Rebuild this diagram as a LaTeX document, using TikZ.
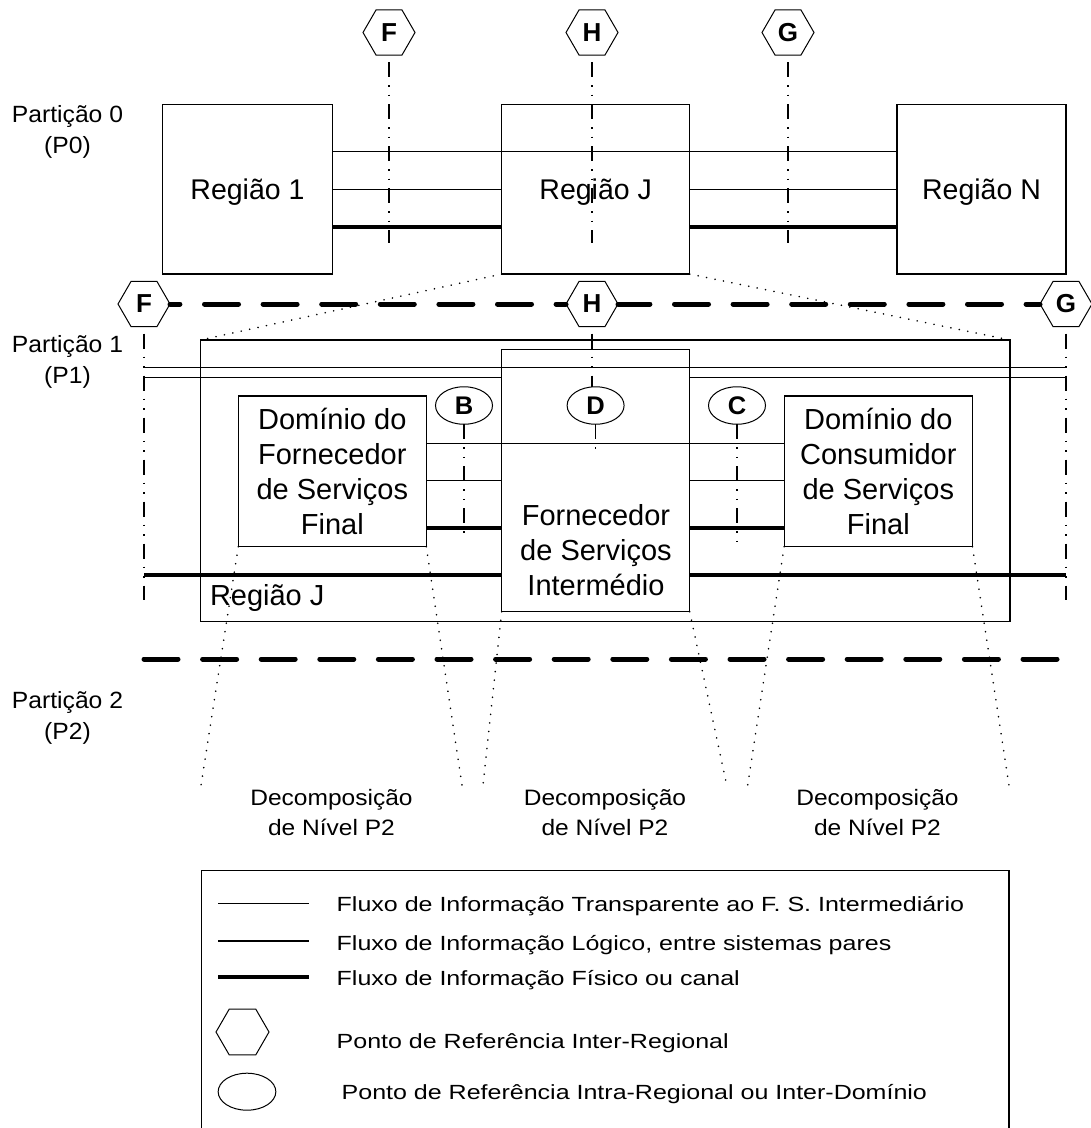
\documentclass[tikz,border=0pt]{standalone}
\usepackage{fontspec}
\setmainfont{Liberation Sans}
\newfontfamily\legendfont[FakeStretch=1.22]{Liberation Sans}
\newfontfamily\decofont[FakeStretch=1.1]{Liberation Sans}
\newfontfamily\partfont[FakeStretch=1.05]{Liberation Sans}
\usetikzlibrary{shapes.geometric,calc}
\begin{document}
\begin{tikzpicture}[x=1pt,y=-1pt,
  every node/.style={inner sep=0pt, outer sep=0pt},
  regbox/.style={draw, line width=1.2pt, text height=20.5pt, text depth=0pt, font=\fontsize{28.5}{34}\selectfont},
  plainbox/.style={draw, line width=1.2pt},
  dombox/.style={draw, line width=1.2pt, align=center, font=\fontsize{29}{35}\selectfont},
  hexnode/.style={draw, fill=white, regular polygon, regular polygon sides=6, minimum size=52pt, line width=1pt, font=\fontsize{26}{26}\selectfont\bfseries},
  ellnode/.style={draw, ellipse, minimum width=57pt, minimum height=37.5pt, line width=1pt, font=\fontsize{25.5}{25.5}\selectfont\bfseries},
  thinflow/.style={line width=1.1pt},
  thickflow/.style={line width=4pt},
  border/.style={line width=5pt, line cap=round, dash pattern=on 34pt off 24.6pt},
  refline/.style={line width=1.2pt, dash pattern=on 15pt off 8pt on 1.5pt off 8pt on 1.5pt off 8pt},
  proj/.style={line width=1.7pt, line cap=round, dash pattern=on 0.1pt off 8.5pt},
  partlabel/.style={align=center, font=\partfont\fontsize{23.5}{31}\selectfont},
  decolabel/.style={align=center, font=\decofont\fontsize{22.3}{30}\selectfont},
  legtext/.style={anchor=base west, font=\legendfont\fontsize{20.5}{24}\selectfont}
]
\useasboundingbox (0,0) rectangle (1091,1128);

% ---------------- Partition 0 ----------------
\node[partlabel] (part0) at (67.5,132) {Partição 0\\(P0)};
\node[regbox, minimum width=169.6pt, minimum height=169.7pt] (reg1) at (247.5,189.2) {Região 1};
\node[regbox, minimum width=188pt, minimum height=169.7pt] (regJ) at (595.7,189.2) {Região J};
\node[regbox, minimum width=169pt, minimum height=169.7pt] (regN) at (981.5,189.2) {Região N};

\node[hexnode] (tF) at (389,32.5) {F};
\node[hexnode] (tH) at (592,32.5) {H};
\node[hexnode] (tG) at (788,32.5) {G};

\draw[thinflow] (reg1.east |- 0,151.7) -- (regN.west |- 0,151.7);
\draw[thinflow] (reg1.east |- 0,189.3) -- (regJ.west |- 0,189.3);
\draw[thinflow] (regJ.east |- 0,189.3) -- (regN.west |- 0,189.3);
\draw[thickflow] (reg1.east |- 0,227) -- (regJ.west |- 0,227);
\draw[thickflow] (regJ.east |- 0,227) -- (regN.west |- 0,227);

\draw[refline] ($(tF.south)+(0,7)$) -- (tF |- 0,243);
\draw[refline] ($(tH.south)+(0,7)$) -- (tH |- 0,243);
\draw[refline] ($(tG.south)+(0,7)$) -- (tG |- 0,243);

% ---------------- Partition 1 ----------------
\node[partlabel] (part1) at (67.5,362) {Partição 1\\(P1)};
\node[hexnode] (pF) at (144,304) {F};
\node[hexnode] (pH) at (592,304) {H};
\node[hexnode] (pG) at (1066,304) {G};

\draw[border, dash phase=24.1pt] (pF.east) -- (pH.west);
\draw[border, dash phase=2.1pt] (pH.east) -- (pG.west);

\node[plainbox, minimum width=809.3pt, minimum height=281.7pt] (regJin) at (605.35,480.85) {};
\node[anchor=base west, font=\fontsize{29}{35}\selectfont] (regJinlab) at (210,605.5) {Região J};

\node[plainbox, minimum width=188pt, minimum height=262.4pt] (fsi) at (595.7,480.5) {};
\node[align=center, font=\fontsize{29}{35}\selectfont] (fsitext) at (596,550) {Fornecedor\\de Serviços\\Intermédio};

\node[dombox, minimum width=188pt, minimum height=150.7pt] (domF) at (332.3,471.3) {Domínio do\\Fornecedor\\de Serviços\\Final};
\node[dombox, minimum width=188.3pt, minimum height=150.7pt] (domC) at (878.3,471.3) {Domínio do\\Consumidor\\de Serviços\\Final};

\node[ellnode] (eB) at (464,405.5) {B};
\node[ellnode] (eD) at (595.6,405.5) {D};
\node[ellnode] (eC) at (737,405.5) {C};

% information flows across the region
\draw[thinflow] (pF |- 0,367.7) -- (pG |- 0,367.7);
\draw[thinflow] (pF |- 0,377.3) -- (fsi.west |- 0,377.3);
\draw[thinflow] (fsi.east |- 0,377.3) -- (pG |- 0,377.3);
\draw[thinflow] (domF.east |- 0,443.3) -- (domC.west |- 0,443.3);
\draw[thinflow] (domF.east |- 0,480.7) -- (fsi.west |- 0,480.7);
\draw[thinflow] (fsi.east |- 0,480.7) -- (domC.west |- 0,480.7);
\draw[thickflow] (domF.east |- 0,527.7) -- (fsi.west |- 0,527.7);
\draw[thickflow] (fsi.east |- 0,527.7) -- (domC.west |- 0,527.7);
\draw[thickflow] (pF |- 0,575) -- (fsi.west |- 0,575);
\draw[thickflow] (fsi.east |- 0,575) -- (pG |- 0,575);

% reference point lines
\draw[refline] ($(pF.south)+(0,7)$) -- (pF |- 0,600);
\draw[refline] ($(pG.south)+(0,7)$) -- (pG |- 0,600);
\draw[refline] ($(pH.south)+(0,7)$) -- (pH |- eD.north);
\draw[refline] (eD.south) -- (eD |- 0,456);
\draw[refline] (eB.south) -- (eB |- 0,540);
\draw[refline] (eC.south) -- (eC |- 0,542);

% projection of region J
\draw[proj] (regJ.south west) -- (regJin.north west);
\draw[proj] (regJ.south east) -- (regJin.north east);

% ---------------- Partition 2 ----------------
\draw[border] (pF |- 0,659) -- (pG |- 0,659);
\node[partlabel] (part2) at (67.5,718) {Partição 2\\(P2)};

\coordinate (d1a) at (200,791.7);
\coordinate (d1b) at (463,792);
\coordinate (d2a) at (483,785);
\coordinate (d2b) at (726.7,785);
\coordinate (d3a) at (746.7,791.7);
\coordinate (d3b) at (1010,792);
\draw[proj] (domF.south west) -- (d1a);
\draw[proj] (domF.south east) -- (d1b);
\draw[proj] (fsi.south west) -- (d2a);
\draw[proj] (fsi.south east) -- (d2b);
\draw[proj] (domC.south west) -- (d3a);
\draw[proj] (domC.south east) -- (d3b);

\node[decolabel] (dec1) at (331.5,813) {Decomposição\\de Nível P2};
\node[decolabel] (dec2) at (605,813) {Decomposição\\de Nível P2};
\node[decolabel] (dec3) at (877.5,813) {Decomposição\\de Nível P2};

% ---------------- Legend ----------------
\node[plainbox, minimum width=807.3pt, minimum height=270pt, anchor=north west] (legend) at (201.7,870.5) {};

\coordinate (k1a) at (218.3,903.3);
\coordinate (k1b) at (309.3,903.3);
\coordinate (k2a) at (218.3,941);
\coordinate (k2b) at (309.3,941);
\coordinate (k3a) at (218.3,977.3);
\coordinate (k3b) at (309.3,977.3);
\draw[thinflow] (k1a) -- (k1b);
\draw[thinflow] (k2a) -- (k2b);
\draw[thickflow] (k3a) -- (k3b);
\node[hexnode, minimum size=53pt] (khex) at (242.5,1032) {};
\node[ellnode, minimum width=57.7pt, minimum height=37pt] (kell) at (247,1091.7) {};

\node[legtext] (t1) at (336.7,911.7) {Fluxo de Informação Transparente ao F. S. Intermediário};
\node[legtext] (t2) at (336.7,950) {Fluxo de Informação Lógico, entre sistemas pares};
\node[legtext] (t3) at (336.7,985.5) {Fluxo de Informação Físico ou canal};
\node[legtext] (t4) at (336.7,1048) {Ponto de Referência Inter-Regional};
\node[legtext] (t5) at (341.7,1099) {Ponto de Referência Intra-Regional ou Inter-Domínio};
\end{tikzpicture}
\end{document}
